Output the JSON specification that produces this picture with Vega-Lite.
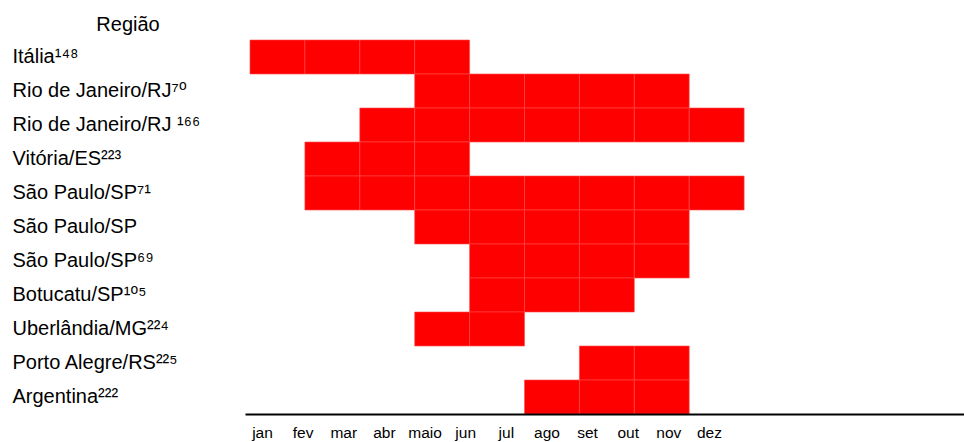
{
  "$schema": "https://vega.github.io/schema/vega-lite/v6.json",
  "width": 719,
  "height": 374,
  "autosize": {"type": "none"},
  "padding": {"left": 245, "top": 40, "right": 0, "bottom": 28},
  "config": {
    "view": {"stroke": null},
    "font": "Liberation Sans",
    "axis": {"labelColor": "#000000", "titleColor": "#000000", "labelFont": "Liberation Sans, DejaVu Sans", "titleFont": "Liberation Sans"}
  },
  "datasets": {
    "celulas": [
      {"regiao": "Itália¹⁴⁸", "mes": "jan"}, {"regiao": "Itália¹⁴⁸", "mes": "fev"}, {"regiao": "Itália¹⁴⁸", "mes": "mar"}, {"regiao": "Itália¹⁴⁸", "mes": "abr"},
      {"regiao": "Rio de Janeiro/RJ⁷⁰", "mes": "abr"}, {"regiao": "Rio de Janeiro/RJ⁷⁰", "mes": "maio"}, {"regiao": "Rio de Janeiro/RJ⁷⁰", "mes": "jun"}, {"regiao": "Rio de Janeiro/RJ⁷⁰", "mes": "jul"}, {"regiao": "Rio de Janeiro/RJ⁷⁰", "mes": "ago"},
      {"regiao": "Rio de Janeiro/RJ ¹⁶⁶", "mes": "mar"}, {"regiao": "Rio de Janeiro/RJ ¹⁶⁶", "mes": "abr"}, {"regiao": "Rio de Janeiro/RJ ¹⁶⁶", "mes": "maio"}, {"regiao": "Rio de Janeiro/RJ ¹⁶⁶", "mes": "jun"}, {"regiao": "Rio de Janeiro/RJ ¹⁶⁶", "mes": "jul"}, {"regiao": "Rio de Janeiro/RJ ¹⁶⁶", "mes": "ago"}, {"regiao": "Rio de Janeiro/RJ ¹⁶⁶", "mes": "set"},
      {"regiao": "Vitória/ES²²³", "mes": "fev"}, {"regiao": "Vitória/ES²²³", "mes": "mar"}, {"regiao": "Vitória/ES²²³", "mes": "abr"},
      {"regiao": "São Paulo/SP⁷¹", "mes": "fev"}, {"regiao": "São Paulo/SP⁷¹", "mes": "mar"}, {"regiao": "São Paulo/SP⁷¹", "mes": "abr"}, {"regiao": "São Paulo/SP⁷¹", "mes": "maio"}, {"regiao": "São Paulo/SP⁷¹", "mes": "jun"}, {"regiao": "São Paulo/SP⁷¹", "mes": "jul"}, {"regiao": "São Paulo/SP⁷¹", "mes": "ago"}, {"regiao": "São Paulo/SP⁷¹", "mes": "set"},
      {"regiao": "São Paulo/SP", "mes": "abr"}, {"regiao": "São Paulo/SP", "mes": "maio"}, {"regiao": "São Paulo/SP", "mes": "jun"}, {"regiao": "São Paulo/SP", "mes": "jul"}, {"regiao": "São Paulo/SP", "mes": "ago"},
      {"regiao": "São Paulo/SP⁶⁹", "mes": "maio"}, {"regiao": "São Paulo/SP⁶⁹", "mes": "jun"}, {"regiao": "São Paulo/SP⁶⁹", "mes": "jul"}, {"regiao": "São Paulo/SP⁶⁹", "mes": "ago"},
      {"regiao": "Botucatu/SP¹⁰⁵", "mes": "maio"}, {"regiao": "Botucatu/SP¹⁰⁵", "mes": "jun"}, {"regiao": "Botucatu/SP¹⁰⁵", "mes": "jul"},
      {"regiao": "Uberlândia/MG²²⁴", "mes": "abr"}, {"regiao": "Uberlândia/MG²²⁴", "mes": "maio"},
      {"regiao": "Porto Alegre/RS²²⁵", "mes": "jul"}, {"regiao": "Porto Alegre/RS²²⁵", "mes": "ago"},
      {"regiao": "Argentina²²²", "mes": "jun"}, {"regiao": "Argentina²²²", "mes": "jul"}, {"regiao": "Argentina²²²", "mes": "ago"}
    ],
    "meses": [
      {"mes": "jan"}, {"mes": "fev"}, {"mes": "mar"}, {"mes": "abr"}, {"mes": "maio"}, {"mes": "jun"},
      {"mes": "jul"}, {"mes": "ago"}, {"mes": "set"}, {"mes": "out"}, {"mes": "nov"}, {"mes": "dez"}
    ]
  },
  "layer": [
    {
      "data": {"name": "celulas"},
      "mark": {"type": "rect", "color": "#ff0000", "stroke": "#ff4a4a", "strokeWidth": 0.6},
      "encoding": {
        "x": {
          "field": "mes", "type": "ordinal",
          "scale": {"domain": ["jan","fev","mar","abr","maio","jun","jul","ago","set","out","nov","dez"], "paddingInner": 0, "paddingOuter": 0.548, "align": 0.083},
          "axis": {"title": null, "orient": "bottom", "labels": false, "ticks": false, "tickSize": 0, "grid": false, "domain": true, "domainColor": "#000000", "domainWidth": 2}
        },
        "y": {
          "field": "regiao", "type": "nominal",
          "scale": {"domain": ["Itália¹⁴⁸","Rio de Janeiro/RJ⁷⁰","Rio de Janeiro/RJ ¹⁶⁶","Vitória/ES²²³","São Paulo/SP⁷¹","São Paulo/SP","São Paulo/SP⁶⁹","Botucatu/SP¹⁰⁵","Uberlândia/MG²²⁴","Porto Alegre/RS²²⁵","Argentina²²²"], "paddingInner": 0, "paddingOuter": 0},
          "axis": {
            "title": "Região", "titleAngle": 0, "titleAlign": "center", "titleBaseline": "alphabetic",
            "titleX": -117.5, "titleY": -10, "titleFontSize": 20, "titleFontWeight": "normal",
            "labelAlign": "left", "labelPadding": 233, "labelFontSize": 20, "labelBaseline": "middle",
            "ticks": false, "tickSize": 0, "domain": false, "grid": false, "labelLimit": 0
          }
        }
      }
    },
    {
      "data": {"name": "meses"},
      "mark": {"type": "point", "opacity": 0},
      "encoding": {
        "x": {
          "field": "mes", "type": "ordinal", "sort": null,
          "scale": {"type": "point", "range": [17, 464], "padding": 0},
          "axis": {
            "title": null, "orient": "bottom", "ticks": false, "tickSize": 0, "labelPadding": 11,
            "labelFontSize": 15.5, "labelAngle": 0, "domain": false, "grid": false
          }
        }
      }
    }
  ],
  "resolve": {"scale": {"x": "independent"}, "axis": {"x": "independent"}}
}
